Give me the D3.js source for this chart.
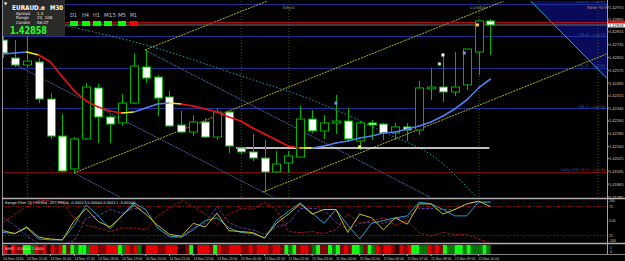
<!DOCTYPE html>
<html><head><meta charset="utf-8">
<script src="https://cdn.jsdelivr.net/npm/d3@7"></script>
<style>
html,body{margin:0;padding:0;background:#000;overflow:hidden}
svg{display:block;font-family:"DejaVu Sans",Arial,sans-serif}
.ax{font-family:"Liberation Sans",Arial,sans-serif}
</style></head><body>
<svg id="chart" width="625" height="261"></svg>
<script>
// ---- data ----
const timeLabels = ["14 Nov 2016","14 Nov 15:00","14 Nov 16:00","14 Nov 17:00","14 Nov 18:00","14 Nov 19:00",
  "14 Nov 20:00","14 Nov 21:00","14 Nov 22:00","14 Nov 23:00","15 Nov 00:00","15 Nov 01:00","15 Nov 02:00",
  "15 Nov 03:00","15 Nov 04:00","15 Nov 05:00","15 Nov 06:00","15 Nov 07:00","15 Nov 08:00","15 Nov 09:00","15 Nov 10:00"];

const open  = [1.42764,1.42652,1.42608,1.42627,1.42396,1.42165,1.41960,1.42147,1.42465,1.42284,1.42247,1.42371,1.42596,1.42533,
  1.42409,1.42234,1.42190,1.42253,1.42159,1.42315,1.42091,1.42066,1.42028,1.41941,1.41997,1.42034,1.42271,1.42197,
  1.42247,1.42259,1.42134,1.42247,1.42240,1.42184,1.42222,1.42203,1.42459,1.42471,1.42440,1.42484,1.42689,1.42883];
const high  = [1.42795,1.42764,1.42802,1.42652,1.42434,1.42303,1.42159,1.42496,1.42490,1.42296,1.42427,1.42683,1.42708,1.42546,
  1.42446,1.42321,1.42296,1.42278,1.42340,1.42321,1.42097,1.42178,1.42141,1.42072,1.42072,1.42353,1.42328,1.42296,
  1.42421,1.42340,1.42259,1.42265,1.42247,1.42247,1.42247,1.42509,1.42590,1.42671,1.42689,1.42708,1.42883,1.42895];
const low   = [1.42652,1.42596,1.42590,1.42371,1.42147,1.41941,1.41935,1.42141,1.42122,1.42122,1.42228,1.42365,1.42496,1.42290,
  1.42222,1.42184,1.42165,1.42153,1.42141,1.42059,1.42053,1.42010,1.41816,1.41935,1.41935,1.42034,1.42184,1.42147,
  1.42178,1.42141,1.42078,1.42141,1.42141,1.42141,1.42134,1.42172,1.42390,1.42378,1.42415,1.42452,1.42546,1.42671];
const close = [1.42683,1.42608,1.42633,1.42396,1.42165,1.41947,1.42147,1.42471,1.42284,1.42240,1.42371,1.42602,1.42527,1.42402,
  1.42228,1.42190,1.42253,1.42159,1.42315,1.42103,1.42066,1.42028,1.41941,1.41991,1.42041,1.42271,1.42197,1.42247,
  1.42259,1.42147,1.42247,1.42234,1.42184,1.42222,1.42203,1.42465,1.42471,1.42440,1.42471,1.42708,1.42883,1.42858];

// colour-changing moving average and its state per segment (u up, d down, f flat)
const maLine = [1.42677,1.42683,1.42689,1.42671,1.42627,1.42533,1.42446,1.42384,1.42346,1.42321,1.42309,1.42315,1.42340,1.42365,
  1.42371,1.42365,1.42353,1.42334,1.42315,1.42284,1.42259,1.42215,1.42178,1.42141,1.42103,1.42091,1.42091,1.42103,
  1.42122,1.42134,1.42153,1.42165,1.42184,1.42190,1.42209,1.42228,1.42253,1.42290,1.42334,1.42390,1.42465,1.42521];
const maTrend = "uufdddddddfuuufddddddddddfuuuuuuuuuuuuuuu";

const priceTicks = [1.42970,1.42890,1.42815,1.42735,1.42655,1.42575,1.42495,1.42415,1.42340,1.42260,1.42180,1.42100,1.42025,1.41945,1.41865,1.41785];
const fibLevels = [1.42989,1.42789,1.42590,1.42340];
const fibLabels = ["(100.0) - 1.4299","(76.4) - 1.4279","(61.8) - 1.4259","(38.2) - 1.4234"];
const dailyLow = 1.41941;
const bidPrice = 1.42858, askPrice = 1.42872;
const supportLine = {from: 19.6, to: 40.9, price: 1.42091};

// trend lines as [barIndex, price] pairs
const channelLines = [[[11.93,1.42702],[22.44,1.43014]], [[5.97,1.41935],[42.35,1.43014]], [[21.85,1.41816],[50.76,1.42677]]];
const fallLines = [[[0.59,1.42627],[22.69,1.41785]], [[11.93,1.42702],[35.88,1.41785]], [[5.97,1.41935],[9.83,1.41785]]];
const cyanCurve = [[4.6,1.42864],[12.3,1.42727],[20,1.42540],[26,1.42390],[32,1.42190],[36.5,1.42022],[39.8,1.41785]];
const cyanLine = [[44.29,1.43014],[50.76,1.42527]];
const sessions = [2, 20, 24, 40, 50];
const sessionNames = [[24,"Tokyo"],[40,"London"],[50,"New York"]];
const signals = [[28,1.42371,"#7090ff"],[37,1.42671,"#ffffff"],[36.7,1.42615,"#a0ffa0"],[38.8,1.42683,"#7090ff"],[39.9,1.42858,"#ffd040"],[30,1.42097,"#ffff80"]];

// Range Filter oscillator (4 lines) and heat strip
const oscYellow = [-97,-125,-60,-162,-180,-189,5,125,-5,-60,51,162,69,-42,-134,-152,-23,-60,79,-97,-106,-115,-171,-23,69,171,69,115,115,-115,69,32,-88,32,-32,171,171,69,115,171,199,143];
const oscCyan   = [-115,-125,-69,-180,-189,-189,-42,162,51,-79,51,180,115,-69,-152,-162,-88,5,32,-69,-115,-125,-171,5,97,180,79,-23,115,-42,-180,-23,5,32,51,189,171,115,51,51,189,189];
const oscPurple = [32,-42,-152,-225,-230,-230,-199,32,51,115,79,125,115,-69,-162,-162,-69,-23,143,-14,-69,-88,-134,-60,-23,125,125,115,-14,-88,-23,-14,-23,23,32,125,125,115,115,171,189,189];
const oscRed    = [-14,69,143,208,199,189,23,-42,-69,-106,-69,-69,-88,51,125,208,143,69,-42,69,125,115,189,115,-106,-115,-106,-125,-88,69,-23,5,32,-42,5,-115,-152,-115,-134,-134,-180,-226];
const oscLevels = [145,-145];
const oscTicks = [[200,"200"],[145,"75"],[0,"0.00"],[-145,"25"],[-200,"-200"]];
const heatCells = "RkRrrGGgRrRkRrRGrGgGGgRRrrRRRGgRrRgkRRRrrRRRkkrGkRRRrGRrrRRRrrRrRRRrRRrGgGrRRrgGrrGgGrRrGGgrGgRrRRrkRrRGGggRrRrGggGGgGgggGg";
const heatColors = {R:"#e80000", r:"#8a0000", G:"#10ff10", g:"#007a00", k:"#250000"};

const tfNames = ["D1","H4","H1","M15","M5","M1"];
const tfState = [1,1,1,1,1,0];

// ---- drawing ----
const svg = d3.select("#chart");
const x = d3.scaleLinear().domain([0, 50.8]).range([3, 607]);
const y = d3.scaleLinear().domain([1.41785, 1.42970]).range([197, 7]);
const yo = d3.scaleLinear().domain([-210, 210]).range([242, 200]);
const fmt = d3.format(".5f");

svg.append("rect").attr("width",625).attr("height",261).attr("fill","#000");

const defs = svg.append("defs");
defs.append("clipPath").attr("id","cMain").append("rect").attr("x",3).attr("y",1).attr("width",604).attr("height",196.5);
defs.append("clipPath").attr("id","cOsc").append("rect").attr("x",3).attr("y",200).attr("width",604).attr("height",43);

const main = svg.append("g").attr("clip-path","url(#cMain)");

// navy zone
main.append("path")
  .attr("d", d3.line()([[x(cyanLine[0][0]), y(cyanLine[0][1])], [x(52), y(cyanLine[0][1])], [x(52), y(cyanLine[1][1])], [x(cyanLine[1][0]), y(cyanLine[1][1])]]))
  .attr("fill","#0a0a5a");

// fib levels and daily low
main.selectAll(".fib").data(fibLevels).join("line")
  .attr("x1",3).attr("x2",607).attr("y1",d=>y(d)+0.5).attr("y2",d=>y(d)+0.5)
  .attr("stroke","#1e3296").attr("stroke-width",1);
main.append("line").attr("x1",3).attr("x2",607).attr("y1",y(dailyLow)+0.5).attr("y2",y(dailyLow)+0.5)
  .attr("stroke","#7a0a0a").attr("stroke-width",1);

// session separators
main.selectAll(".sess").data(sessions).join("line")
  .attr("x1",d=>x(d)+0.5).attr("x2",d=>x(d)+0.5).attr("y1",1).attr("y2",198)
  .attr("stroke","#3d5a10").attr("stroke-dasharray","1,2");

// channels
const lineGen = d3.line().x(d=>x(d[0])).y(d=>y(d[1]));
main.selectAll(".ch").data(channelLines).join("path").attr("d",lineGen)
  .attr("fill","none").attr("stroke","#b4b414").attr("stroke-width",1).attr("stroke-dasharray","2,1");
main.selectAll(".fl").data(fallLines).join("path").attr("d",lineGen)
  .attr("fill","none").attr("stroke","#4a64a8").attr("stroke-width",1).attr("stroke-dasharray","2,1");
main.append("path").attr("d", d3.line().curve(d3.curveMonotoneX).x(d=>x(d[0])).y(d=>y(d[1]))(cyanCurve))
  .attr("fill","none").attr("stroke","#1aa0a0").attr("stroke-width",1).attr("stroke-dasharray","1.5,2");
main.append("path").attr("d", lineGen(cyanLine)).attr("fill","none").attr("stroke","#1ab4c8").attr("stroke-width",1);

// ask / bid
main.append("line").attr("x1",3).attr("x2",607).attr("y1",y(askPrice)).attr("y2",y(askPrice)).attr("stroke","#e01010").attr("stroke-width",1);
main.append("line").attr("x1",3).attr("x2",607).attr("y1",y(bidPrice)).attr("y2",y(bidPrice)).attr("stroke","#707070").attr("stroke-width",1);

// support line
main.append("line").attr("x1",x(supportLine.from)).attr("x2",x(supportLine.to))
  .attr("y1",y(supportLine.price)).attr("y2",y(supportLine.price)).attr("stroke","#fff").attr("stroke-width",1.5);

// candles
const idx = d3.range(open.length);
const cg = main.append("g");
cg.selectAll(".wick").data(idx).join("line")
  .attr("x1",i=>Math.round(x(i))+0.5).attr("x2",i=>Math.round(x(i))+0.5)
  .attr("y1",i=>y(high[i])).attr("y2",i=>y(low[i])).attr("stroke","#00b400").attr("stroke-width",1);
cg.selectAll(".body").data(idx).join("rect")
  .attr("x",i=>Math.round(x(i))-4+0.5).attr("width",8)
  .attr("y",i=>y(Math.max(open[i],close[i]))).attr("height",i=>Math.max(1,Math.abs(y(open[i])-y(close[i]))))
  .attr("fill",i=>close[i]<open[i]?"#fff":"#000").attr("stroke","#00b400").attr("stroke-width",1);

// moving average coloured by state
const maColor = {u:"#4f7ff0", d:"#f01010", f:"#f0f010"};
main.selectAll(".ma").data(d3.range(maLine.length-1)).join("line")
  .attr("x1",i=>x(i)).attr("x2",i=>x(i+1)).attr("y1",i=>y(maLine[i])).attr("y2",i=>y(maLine[i+1]))
  .attr("stroke",i=>maColor[maTrend[i]]).attr("stroke-width",1.6).attr("stroke-linecap","round");

// signals
main.selectAll(".sig").data(signals).join("rect")
  .attr("x",d=>x(d[0])-1.5).attr("y",d=>y(d[1])-1.5).attr("width",3).attr("height",3).attr("fill",d=>d[2]);

// session names
main.selectAll(".sn").data(sessionNames).join("text")
  .attr("x",d=>x(d[0])).attr("y",9).attr("text-anchor","middle")
  .attr("font-size",4.5).attr("fill","#9a9a9a").text(d=>d[1]);
// fib labels
main.selectAll(".fl2").data(fibLevels).join("text")
  .attr("x",605).attr("y",d=>y(d)-0.5).attr("text-anchor","end")
  .attr("font-size",3.6).attr("fill","#3c58b4").text((d,i)=>fibLabels[i]);
const dl = main.append("text").attr("x",605).attr("y",y(dailyLow)-0.5).attr("text-anchor","end").attr("font-size",3.6);
dl.append("tspan").attr("fill","#3c58b4").text("Daily LOW ");
dl.append("tspan").attr("fill","#a03030").text("(0.0) - 1.4194");

// right price axis
svg.append("line").attr("x1",607.5).attr("x2",607.5).attr("y1",0).attr("y2",255).attr("stroke","#a0a0a0");
svg.selectAll(".pt").data(priceTicks).join("text").attr("class","ax")
  .attr("x",609).attr("y",d=>y(d)+1.5).attr("font-size",4).attr("textLength",14.5).attr("lengthAdjust","spacingAndGlyphs")
  .attr("fill","#c8c8c8").text(d=>fmt(d));
svg.selectAll(".ptk").data(priceTicks).join("line")
  .attr("x1",607).attr("x2",609).attr("y1",d=>y(d)).attr("y2",d=>y(d)).attr("stroke","#a0a0a0");
svg.append("rect").attr("x",608).attr("y",y(askPrice)-2).attr("width",17).attr("height",3).attr("fill","#e01010");
svg.append("rect").attr("x",608).attr("y",y(bidPrice)-1.5).attr("width",17).attr("height",4).attr("fill","#fff");
svg.append("text").attr("class","ax").attr("x",609).attr("y",y(bidPrice)+2).attr("font-size",4).attr("textLength",14.5).attr("lengthAdjust","spacingAndGlyphs")
  .attr("fill","#000").text(fmt(bidPrice));

// frame and separators
svg.append("line").attr("x1",2.5).attr("x2",2.5).attr("y1",0).attr("y2",255).attr("stroke","#909090");
svg.append("line").attr("x1",2).attr("x2",625).attr("y1",198.5).attr("y2",198.5).attr("stroke","#b0b0b0").attr("stroke-width",1.5);
svg.append("line").attr("x1",2).attr("x2",625).attr("y1",243.5).attr("y2",243.5).attr("stroke","#b0b0b0").attr("stroke-width",1.5);
svg.append("line").attr("x1",2).attr("x2",625).attr("y1",254.5).attr("y2",254.5).attr("stroke","#808080");

// oscillator
const osc = svg.append("g").attr("clip-path","url(#cOsc)");
osc.selectAll(".lv").data(oscLevels).join("line")
  .attr("x1",3).attr("x2",607).attr("y1",d=>yo(d)).attr("y2",d=>yo(d))
  .attr("stroke","#b01010").attr("stroke-dasharray","1,1.5");
const og = d3.line().x((d,i)=>x(i)).y(d=>yo(d));
osc.append("path").attr("d",og(oscRed)).attr("fill","none").attr("stroke","#a01818").attr("stroke-dasharray","3,1.5");
osc.append("path").attr("d",og(oscPurple)).attr("fill","none").attr("stroke","#5a3c9c").attr("stroke-dasharray","3,1.5");
osc.append("path").attr("d",og(oscCyan)).attr("fill","none").attr("stroke","#2a9cc8").attr("stroke-width",1);
osc.append("path").attr("d",og(oscYellow)).attr("fill","none").attr("stroke","#c8c020").attr("stroke-width",1);
svg.append("text").attr("x",5).attr("y",204).attr("font-size",3.6).attr("fill","#e0e0e0")
  .text("Range Filter 207,99904 -207,99904 -0.00013 0.00040 0.00011 -0.00040");
svg.selectAll(".ot").data(oscTicks).join("text").attr("class","ax")
  .attr("x",609).attr("y",d=>yo(d[0])+1.3).attr("font-size",3.4).attr("fill","#c8c8c8").text(d=>d[1]);

// heat strip
svg.selectAll(".hc").data(heatCells.split("")).join("rect")
  .attr("x",(d,k)=>x(k/3)).attr("width",(d,k)=>x((k+1)/3)-x(k/3)+0.2)
  .attr("y",245).attr("height",9).attr("fill",d=>heatColors[d]);
svg.append("text").attr("x",5).attr("y",250).attr("font-size",3.6).attr("fill","#e0e0e0").text("MMG - 0.0000 2.0000");
svg.selectAll(".hl").data(["1","0"]).join("text").attr("class","ax")
  .attr("x",610).attr("y",(d,i)=>248.5+i*4.5).attr("font-size",3.4).attr("fill","#c8c8c8").text(d=>d);

// time axis
svg.selectAll(".tl").data(timeLabels).join("text").attr("class","ax")
  .attr("x",(d,i)=>x(i*2)).attr("y",260).attr("font-size",3.4).attr("textLength",20.5).attr("lengthAdjust","spacingAndGlyphs")
  .attr("fill","#c8c8c8").text(d=>d);
svg.selectAll(".tk").data(timeLabels).join("line")
  .attr("x1",(d,i)=>x(i*2)).attr("x2",(d,i)=>x(i*2)).attr("y1",254).attr("y2",256).attr("stroke","#a0a0a0");

// info panel
const info = svg.append("g");
info.append("rect").attr("x",3).attr("y",0).attr("width",62).attr("height",36).attr("fill","#2a2a2a");
info.append("text").attr("x",4).attr("y",5).attr("font-size",4).attr("fill","#fff").text("\u25BC");
info.append("text").attr("x",12).attr("y",9.5).attr("font-size",6.5).attr("font-weight","bold")
  .attr("textLength",33).attr("lengthAdjust","spacingAndGlyphs").attr("fill","#fff").text("EURAUD.e");
info.append("text").attr("x",50).attr("y",9.5).attr("font-size",6.5).attr("font-weight","bold")
  .attr("textLength",13).attr("lengthAdjust","spacingAndGlyphs").attr("fill","#fff").text("M30");
const rows = [["Spread","1.4"],["Range","23, 108"],["Candle","06:07"]];
info.selectAll(".r1").data(rows).join("text").attr("x",16).attr("y",(d,i)=>14.5+i*4.8)
  .attr("font-size",4).attr("fill","#e8e8e8").text(d=>d[0]);
info.selectAll(".r2").data(rows).join("text").attr("x",37).attr("y",(d,i)=>14.5+i*4.8)
  .attr("font-size",4).attr("fill","#e8e8e8").text(d=>d[1]);
info.append("text").attr("x",10).attr("y",33.5).attr("font-size",10).attr("font-weight","bold")
  .attr("textLength",37).attr("lengthAdjust","spacingAndGlyphs").attr("fill","#20ff20").text(fmt(bidPrice));

// timeframe trend boxes
const tfx = [70,82,93,104,118,130];
const tfw = [7,7,7,12,8,7];
svg.selectAll(".tfn").data(tfNames).join("text").attr("x",(d,i)=>tfx[i]).attr("y",17)
  .attr("font-size",5.5).attr("textLength",(d,i)=>tfw[i]).attr("lengthAdjust","spacingAndGlyphs")
  .attr("fill","#c8c8c8").text(d=>d);
svg.selectAll(".tfb").data(tfState).join("rect").attr("x",(d,i)=>tfx[i]).attr("y",21).attr("width",8).attr("height",5)
  .attr("fill",d=>d?"#00ff00":"#ff0000");
</script>
</body></html>
